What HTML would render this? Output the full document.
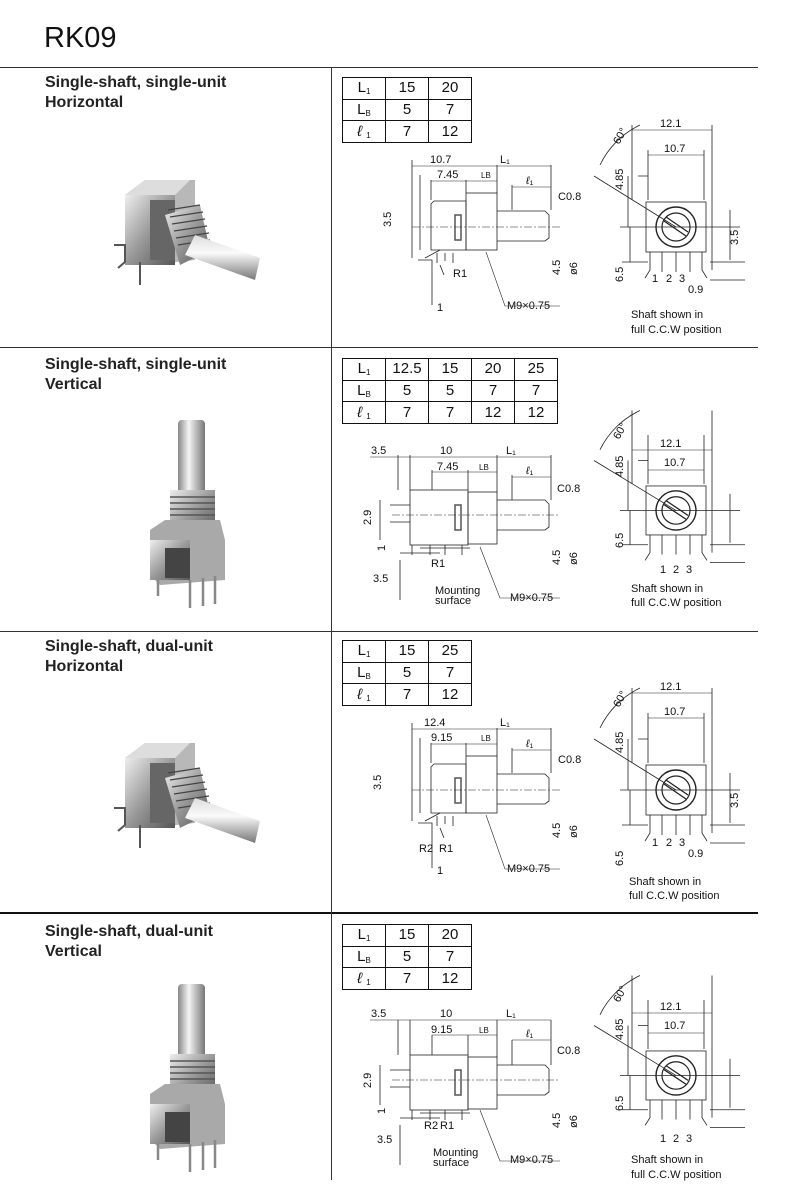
<!DOCTYPE html>
<html><head><meta charset="utf-8"><style>
html,body{margin:0;padding:0;background:#fff}
body{width:798px;height:1200px;position:relative;overflow:hidden;font-family:"Liberation Sans",sans-serif;color:#111}
.t{position:absolute;left:44px;top:22px;font-size:29px}
.h{position:absolute;left:45px;font-size:16px;font-weight:bold;line-height:20px;color:#222}
.hl{position:absolute;left:0;width:758px;height:1px;background:#333}
.vl{position:absolute;left:331px;top:67px;width:1px;height:1113px;background:#333}
table{position:absolute;left:342px;border-collapse:collapse;font-size:15px}
tr{height:21.7px}
td{border:1.3px solid #111;width:42px;height:19px;padding:0;text-align:center;line-height:18px}
sub{font-size:8px;line-height:0;vertical-align:-2px}
svg{position:absolute;left:0;top:0}
</style></head><body>
<div class="t">RK09</div>
<div class="hl" style="top:67px"></div>
<div class="hl" style="top:347px"></div>
<div class="hl" style="top:631px"></div>
<div class="hl" style="top:912px;height:2px;background:#111"></div>
<div class="vl"></div>

<div class="h" style="top:73px">Single-shaft, single-unit<br>Horizontal</div>
<div class="h" style="top:355px">Single-shaft, single-unit<br>Vertical</div>
<div class="h" style="top:637px">Single-shaft, dual-unit<br>Horizontal</div>
<div class="h" style="top:922px">Single-shaft, dual-unit<br>Vertical</div>

<table style="top:77px"><tr><td>L<sub>1</sub></td><td>15</td><td>20</td></tr><tr><td>L<sub>B</sub></td><td>5</td><td>7</td></tr><tr><td><i>ℓ</i> <sub>1</sub></td><td>7</td><td>12</td></tr></table>
<table style="top:358px"><tr><td>L<sub>1</sub></td><td>12.5</td><td>15</td><td>20</td><td>25</td></tr><tr><td>L<sub>B</sub></td><td>5</td><td>5</td><td>7</td><td>7</td></tr><tr><td><i>ℓ</i> <sub>1</sub></td><td>7</td><td>7</td><td>12</td><td>12</td></tr></table>
<table style="top:640px"><tr><td>L<sub>1</sub></td><td>15</td><td>25</td></tr><tr><td>L<sub>B</sub></td><td>5</td><td>7</td></tr><tr><td><i>ℓ</i> <sub>1</sub></td><td>7</td><td>12</td></tr></table>
<table style="top:924px"><tr><td>L<sub>1</sub></td><td>15</td><td>20</td></tr><tr><td>L<sub>B</sub></td><td>5</td><td>7</td></tr><tr><td><i>ℓ</i> <sub>1</sub></td><td>7</td><td>12</td></tr></table>

<svg width="798" height="1200" viewBox="0 0 798 1200" font-family="Liberation Sans, sans-serif" font-size="11" fill="none" stroke="#222" stroke-width="0.8">
<defs>
<linearGradient id="gm" x1="0" y1="0" x2="1" y2="1"><stop offset="0" stop-color="#eee"/><stop offset="0.5" stop-color="#999"/><stop offset="1" stop-color="#555"/></linearGradient>
<linearGradient id="gs" x1="0" y1="0" x2="0" y2="1"><stop offset="0" stop-color="#ddd"/><stop offset="0.4" stop-color="#fafafa"/><stop offset="1" stop-color="#777"/></linearGradient>
<linearGradient id="gv" x1="0" y1="0" x2="1" y2="0"><stop offset="0" stop-color="#888"/><stop offset="0.4" stop-color="#f5f5f5"/><stop offset="1" stop-color="#777"/></linearGradient>
<g id="ph" stroke="none">
<path d="M125 195 L145 180 L195 180 L195 260 L150 265 L125 250Z" fill="#b8b8b8"/>
<path d="M125 195 L145 180 L190 180 L175 195Z" fill="#ddd"/>
<rect x="125" y="195" width="50" height="70" fill="url(#gm)"/>
<rect x="150" y="200" width="25" height="60" fill="#666"/>
<path d="M165 215 L200 205 L210 250 L180 265Z" fill="url(#gm)"/>
<g stroke="#444" stroke-width="1.3"><path d="M168 210 L200 205 M170 217 L203 212 M172 224 L205 219 M174 231 L207 226 M176 238 L209 233 M178 245 L210 240"/></g>
<path d="M195 235 L260 258 L255 280 L185 255Z" fill="url(#gs)"/>
<path d="M114 245 L125 245 L125 262 L118 268" stroke="#555" stroke-width="2"/>
<path d="M140 262 L140 285" stroke="#555" stroke-width="2"/>
</g>
<g id="pv" stroke="none">
<rect x="178" y="420" width="27" height="75" rx="4" fill="url(#gv)"/>
<rect x="170" y="490" width="45" height="45" fill="url(#gm)"/>
<g stroke="#555" stroke-width="1.5"><path d="M170 497 H215 M170 503 H215 M170 509 H215 M170 515 H215 M170 521 H215 M170 527 H215"/></g>
<path d="M150 530 L165 520 L220 520 L225 540 L225 580 L160 585 L150 575Z" fill="#a9a9a9"/>
<rect x="150" y="540" width="40" height="40" fill="url(#gm)"/>
<rect x="165" y="548" width="25" height="30" fill="#444"/>
<g stroke="#888" stroke-width="2.5"><path d="M190 580 V608 M203 578 V606 M215 576 V604 M158 580 V596"/></g>
</g>
<g id="sh">
<path d="M431 204 L434 201 L466 201 L466 250 L431 250Z"/>
<rect x="466" y="193" width="31" height="57"/>
<path d="M455 215 h6 v25 h-6z" stroke-width="1.5" stroke="#555"/>
<path d="M497 211 H545 L549 215 V238 L545 241 H497"/>
<path d="M412 227 H560" stroke-dasharray="8 2 2 2" stroke-width="0.6"/>
<path d="M425 258 L440 250 M418 260 H432 V305 M432 260 V305 M437 253 v10 M445 253 v8 M453 253 v10 M440 265 l4 10"/>
<path d="M420 175 V250 M412 160 V258 M497 165 V193 M466 180 V193 M431 180 V200 M551 165 V210 M512 185 V210"/>
</g>
<g id="fv">
<rect x="646" y="202" width="60" height="50"/>
<circle cx="676" cy="227" r="20" stroke-width="1.4"/><circle cx="676" cy="227" r="14" stroke-width="1.2"/>
<path d="M664 221 L686 236 M666 217 L688 232" stroke-width="1.3"/>
<path d="M594 176 L676 227" />
<path d="M650 252 v18 l-5 8 M662 252 v20 M676 252 v20 M690 252 v20 M702 252 v18 l5 8"/>
<path d="M632 125 V200 M712 125 V270 M648 150 V200 M704 150 V200 M620 227 H740"/>
<path d="M600 165 A85 85 0 0 1 640 125"/>
<path d="M638 176 H648 M622 262 H648 M630 227 V262 M628 176 V227 M730 210 V260 M710 262 H745 M710 280 H745"/>
</g>
<g id="sv">
<rect x="410" y="490" width="58" height="55"/>
<rect x="468" y="492" width="29" height="52"/>
<path d="M455 505 h6 v25 h-6z" stroke-width="1.5" stroke="#555"/>
<path d="M497 500 H545 L549 504 V527 L545 530 H497"/>
<path d="M392 515 H560" stroke-dasharray="8 2 2 2" stroke-width="0.6"/>
<path d="M410 505 H390 M410 522 H390 M420 548 H470 M400 553 H440 M412 545 v10 M430 545 v10 M445 545 v10 M462 545 v10"/>
<path d="M398 455 V490 M410 455 V490 M497 455 V492 M432 470 V490 M468 470 V490 M551 455 V500 M512 475 V500 M400 560 V600 M380 500 V540"/>
</g>
</defs>

<use href="#ph"/>
<use href="#ph" transform="translate(0,563)"/>
<use href="#pv"/>
<use href="#pv" transform="translate(0,564)"/>

<use href="#sh"/><use href="#sh" transform="translate(0,563)"/>
<use href="#fv"/><use href="#fv" transform="translate(0,563)"/>
<use href="#sv"/><use href="#sv" transform="translate(0,565)"/>
<use href="#fv" transform="translate(0,288) scale(1,0.98)"/><use href="#fv" transform="translate(0,853) scale(1,0.98)"/>

<g fill="#111" stroke="none">
<text x="430" y="163">10.7</text><text x="500" y="163">L₁</text>
<text x="437" y="178">7.45</text><text x="481" y="178" font-size="8">LB</text>
<text x="526" y="184"><tspan font-style="italic">ℓ</tspan>₁</text><text x="558" y="200">C0.8</text>
<text x="391" y="227" transform="rotate(-90 391 227)">3.5</text>
<text x="453" y="277">R1</text><text x="437" y="311">1</text><text x="507" y="309">M9×0.75</text>
<text x="560" y="275" transform="rotate(-90 560 275)">4.5</text><text x="577" y="275" transform="rotate(-90 577 275)">ø6</text>
<text x="660" y="127">12.1</text><text x="664" y="152">10.7</text><text x="619" y="145" transform="rotate(-60 619 145)">60°</text>
<text x="623" y="190" transform="rotate(-90 623 190)">4.85</text><text x="623" y="282" transform="rotate(-90 623 282)">6.5</text>
<text x="738" y="245" transform="rotate(-90 738 245)">3.5</text>
<text x="652" y="282">1</text><text x="666" y="282">2</text><text x="679" y="282">3</text><text x="688" y="293">0.9</text>
<text x="631" y="318">Shaft shown in</text><text x="631" y="333">full C.C.W position</text>
<text x="424" y="726">12.4</text><text x="500" y="726">L₁</text>
<text x="431" y="741">9.15</text><text x="481" y="741" font-size="8">LB</text>
<text x="526" y="747"><tspan font-style="italic">ℓ</tspan>₁</text><text x="558" y="763">C0.8</text>
<text x="381" y="790" transform="rotate(-90 381 790)">3.5</text>
<text x="419" y="852">R2</text><text x="439" y="852">R1</text><text x="437" y="874">1</text><text x="507" y="872">M9×0.75</text>
<text x="560" y="838" transform="rotate(-90 560 838)">4.5</text><text x="577" y="838" transform="rotate(-90 577 838)">ø6</text>
<text x="660" y="690">12.1</text><text x="664" y="715">10.7</text><text x="619" y="708" transform="rotate(-60 619 708)">60°</text>
<text x="623" y="753" transform="rotate(-90 623 753)">4.85</text><text x="623" y="866" transform="rotate(-90 623 866)">6.5</text>
<text x="738" y="808" transform="rotate(-90 738 808)">3.5</text>
<text x="652" y="846">1</text><text x="666" y="846">2</text><text x="679" y="846">3</text><text x="688" y="857">0.9</text>
<text x="629" y="885">Shaft shown in</text><text x="629" y="899">full C.C.W position</text>
<text x="371" y="454">3.5</text><text x="440" y="454">10</text><text x="506" y="454">L₁</text>
<text x="437" y="470">7.45</text><text x="479" y="470" font-size="8">LB</text>
<text x="526" y="474"><tspan font-style="italic">ℓ</tspan>₁</text><text x="557" y="492">C0.8</text>
<text x="371" y="525" transform="rotate(-90 371 525)">2.9</text><text x="385" y="551" transform="rotate(-90 385 551)">1</text>
<text x="431" y="567">R1</text><text x="373" y="582">3.5</text><text x="435" y="594">Mounting</text><text x="435" y="604">surface</text>
<text x="510" y="601">M9×0.75</text>
<text x="560" y="565" transform="rotate(-90 560 565)">4.5</text><text x="577" y="565" transform="rotate(-90 577 565)">ø6</text>
<text x="660" y="447">12.1</text><text x="664" y="466">10.7</text><text x="619" y="440" transform="rotate(-60 619 440)">60°</text>
<text x="623" y="477" transform="rotate(-90 623 477)">4.85</text><text x="623" y="548" transform="rotate(-90 623 548)">6.5</text>
<text x="660" y="573">1</text><text x="673" y="573">2</text><text x="686" y="573">3</text>
<text x="631" y="592">Shaft shown in</text><text x="631" y="606">full C.C.W position</text>
<text x="371" y="1017">3.5</text><text x="440" y="1017">10</text><text x="506" y="1017">L₁</text>
<text x="431" y="1033">9.15</text><text x="479" y="1033" font-size="8">LB</text>
<text x="526" y="1037"><tspan font-style="italic">ℓ</tspan>₁</text><text x="557" y="1054">C0.8</text>
<text x="371" y="1088" transform="rotate(-90 371 1088)">2.9</text><text x="385" y="1114" transform="rotate(-90 385 1114)">1</text>
<text x="424" y="1129">R2</text><text x="440" y="1129">R1</text><text x="377" y="1143">3.5</text><text x="433" y="1156">Mounting</text><text x="433" y="1166">surface</text>
<text x="510" y="1163">M9×0.75</text>
<text x="560" y="1128" transform="rotate(-90 560 1128)">4.5</text><text x="577" y="1128" transform="rotate(-90 577 1128)">ø6</text>
<text x="660" y="1010">12.1</text><text x="664" y="1029">10.7</text><text x="619" y="1003" transform="rotate(-60 619 1003)">60°</text>
<text x="623" y="1040" transform="rotate(-90 623 1040)">4.85</text><text x="623" y="1111" transform="rotate(-90 623 1111)">6.5</text>
<text x="660" y="1142">1</text><text x="673" y="1142">2</text><text x="686" y="1142">3</text>
<text x="631" y="1163">Shaft shown in</text><text x="631" y="1178">full C.C.W position</text>
</g>
<g stroke-width="0.6">
<path d="M412 166 H551 M431 181 H497 M512 187 H551 M632 130 H712 M648 155 H704"/>
<path d="M412 729 H551 M431 744 H497 M512 750 H551 M632 693 H712 M648 718 H704"/>
<path d="M370 457 H551 M432 472 H497 M512 477 H551 M632 450 H712 M648 470 H704"/>
<path d="M370 1020 H551 M432 1035 H497 M512 1040 H551 M632 1013 H712 M648 1033 H704"/>
<path d="M486 252 L505 306 H560 M486 815 L505 869 H560 M480 547 L500 598 H560 M480 1110 L500 1161 H560"/>
</g>
</svg>
</body></html>
